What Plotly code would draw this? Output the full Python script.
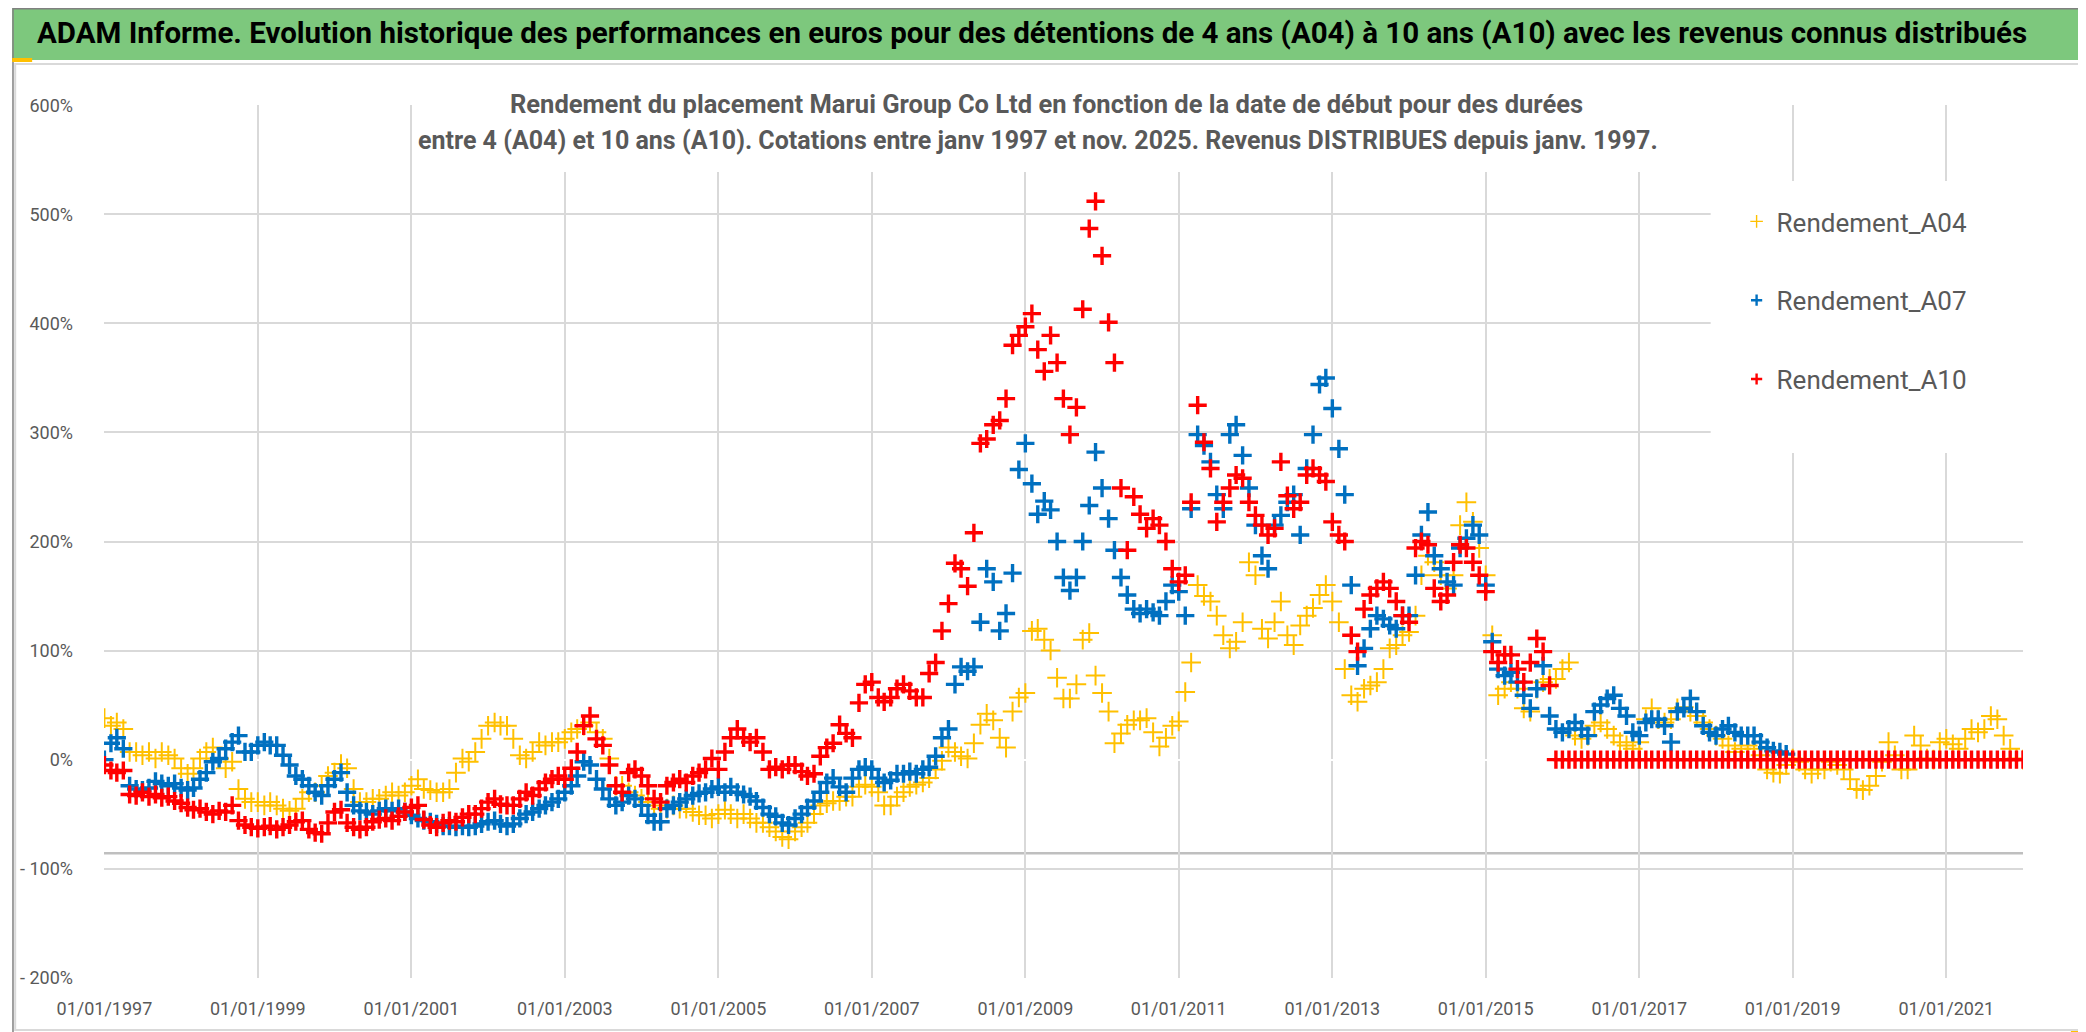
import pandas as pd
import plotly.graph_objects as go

# ---------------- data (monthly readings, % return) ----------------
START = "1997-01-01"

A04 = [
    38, 31, 34, 28, 7, 7, 4, 7, 1, 7, 4, 1,                 # 1997
    -8, -13, -8, 1, 7, 11, 1, -8, -2, -27, -36, -39,        # 1998
    -39, -42, -39, -42, -45, -47, -45, -36, -30, -30, -24, -15,  # 1999
    -12, -4, -8, -27, -39, -39, -36, -36, -33, -30, -33, -30,    # 2000
    -24, -18, -27, -28, -30, -30, -27, -12, 1, -2, 7, 19,   # 2001
    31, 34, 31, 31, 19, 4, 1, 7, 16, 13, 16, 16,            # 2002
    19, 25, 28, 31, 34, 25, 19, 1, -24, -24, -30, -33,      # 2003
    -36, -39, -42, -45, -45, -42, -45, -45, -48, -51, -51, -54,  # 2004
    -50, -46, -50, -54, -50, -54, -58, -58, -62, -66, -71, -73,  # 2005
    -66, -62, -58, -50, -42, -40, -38, -38, -34, -34, -25, -23,  # 2006
    -25, -30, -42, -42, -34, -30, -25, -23, -21, -17, -9, -1,    # 2007
    11, 7, 3, 1, 15, 32, 42, 36, 20, 11, 44, 57,            # 2008
    61, 118, 120, 110, 100, 75, 56, 56, 69, 110, 116, 77,   # 2009
    61, 44, 15, 24, 32, 36, 36, 38, 25, 12, 20, 31,         # 2010
    35, 62, 89, 160, 150, 145, 132, 114, 102, 108, 126, 181,    # 2011
    169, 120, 111, 126, 145, 114, 105, 123, 132, 139, 151, 160, # 2012
    145, 126, 83, 59, 53, 65, 68, 71, 83, 102, 105, 114,    # 2013
    117, 132, 169, 187, 181, 169, 157, 169, 215, 236, 218, 194, # 2014
    169, 114, 59, 65, 71, 65, 47, 44, 65, 71, 74, 74,       # 2015
    83, 89, 22, 19, 22, 31, 34, 28, 22, 16, 13, 10,         # 2016
    16, 37, 47, 37, 34, 37, 47, 48, 44, 40, 34, 28,         # 2017
    22, 19, 13, 7, 10, 13, 10, 4, -9, -12, -13, -5,         # 2018
    1, -2, -9, -13, -9, -9, -2, -5, -9, -18, -27, -28,      # 2019
    -24, -15, -2, 16, 4, -9, -9, 22, 13, 1, 0, 16,          # 2020
    19, 14, 10, 19, 28, 25, 28, 40, 37, 22, 10, 1,          # 2021
    0,                                                      # 2022
]

A07 = [
    0, 15, 20, 10, -24, -27, -28, -26, -20, -22, -24, -22,  # 1997
    -26, -28, -26, -18, -12, -2, 1, 10, 16, 22, 7, 7,       # 1998
    13, 16, 13, 13, 4, -5, -15, -18, -24, -30, -33, -24,    # 1999
    -18, -12, -30, -42, -47, -48, -50, -47, -45, -47, -45, -48,  # 2000
    -51, -54, -56, -57, -59, -61, -61, -62, -61, -62, -61, -59,  # 2001
    -57, -56, -59, -61, -59, -54, -50, -48, -45, -42, -39, -36,  # 2002
    -30, -24, -15, -2, -5, -18, -27, -36, -42, -39, -33, -36,    # 2003
    -42, -51, -57, -57, -45, -42, -39, -36, -33, -31, -30, -27,  # 2004
    -25, -30, -25, -30, -32, -34, -38, -44, -50, -52, -58, -60,  # 2005
    -54, -50, -44, -38, -30, -21, -17, -25, -30, -17, -9, -7,    # 2006
    -9, -17, -21, -19, -13, -13, -11, -13, -9, -7, 3, 20,        # 2007
    28, 69, 85, 81, 85, 126, 175, 163, 118, 134, 171, 266,       # 2008
    290, 253, 225, 237, 229, 200, 167, 155, 167, 200, 233, 282,  # 2009
    249, 221, 192, 167, 151, 138, 134, 138, 135, 132, 145, 160,  # 2010
    154, 132, 230, 298, 288, 273, 243, 230, 298, 307, 279, 249,  # 2011
    215, 187, 175, 215, 224, 236, 243, 206, 267, 298, 344, 350,  # 2012
    322, 285, 243, 160, 86, 102, 120, 132, 129, 123, 120, 132,   # 2013
    132, 169, 206, 227, 187, 175, 163, 160, 194, 203, 215, 206,  # 2014
    160, 108, 83, 77, 80, 71, 59, 47, 65, 86, 40, 28,            # 2015
    25, 28, 34, 28, 22, 44, 50, 56, 59, 47, 40, 25,              # 2016
    22, 34, 37, 37, 31, 16, 44, 47, 56, 44, 31, 25,              # 2017
    22, 28, 31, 25, 22, 22, 22, 16, 11, 8, 7, 5,                 # 2018
]

A10 = [
    -5, -10, -12, -10, -32, -33, -30, -34, -32, -35, -34, -38,   # 1997
    -40, -44, -46, -45, -48, -50, -47, -48, -42, -56, -60, -62,  # 1998
    -63, -62, -61, -64, -62, -60, -57, -56, -64, -67, -68, -58,  # 1999
    -48, -46, -58, -62, -64, -62, -57, -55, -54, -56, -52, -48,  # 2000
    -44, -42, -55, -60, -62, -58, -56, -57, -53, -50, -50, -45,  # 2001
    -39, -36, -41, -42, -42, -36, -30, -33, -27, -21, -18, -15,  # 2002
    -18, -8, 7, 31, 40, 19, 13, -5, -24, -30, -12, -9,           # 2003
    -15, -24, -36, -39, -24, -21, -18, -21, -15, -12, -9, 1,     # 2004
    -9, 7, 20, 28, 20, 16, 20, 7, -9, -7, -9, -5,                # 2005
    -5, -11, -15, -13, 3, 11, 15, 32, 24, 20, 52, 69,            # 2006
    71, 57, 53, 57, 65, 69, 63, 57, 57, 79, 89, 118,             # 2007
    143, 180, 175, 159, 208, 290, 294, 307, 311, 331, 380, 389,  # 2008
    397, 409, 376, 356, 389, 364, 331, 298, 323, 413, 487, 512,  # 2009
    462, 401, 364, 249, 192, 241, 225, 212, 221, 215, 200, 175,  # 2010
    163, 169, 236, 325, 291, 267, 218, 236, 249, 261, 258, 236,  # 2011
    224, 215, 206, 212, 273, 242, 230, 236, 261, 267, 261, 255,  # 2012
    218, 206, 200, 114, 99, 138, 151, 157, 163, 157, 145, 132,   # 2013
    126, 194, 200, 197, 157, 145, 151, 181, 197, 194, 181, 169,  # 2014
    154, 99, 89, 96, 96, 83, 71, 89, 111, 99, 68, 0,             # 2015
    0, 0, 0, 0, 0, 0, 0, 0, 0, 0, 0, 0,                          # 2016
    0, 0, 0, 0, 0, 0, 0, 0, 0, 0, 0, 0,                          # 2017
    0, 0, 0, 0, 0, 0, 0, 0, 0, 0, 0, 0,                          # 2018
    0, 0, 0, 0, 0, 0, 0, 0, 0, 0, 0, 0,                          # 2019
    0, 0, 0, 0, 0, 0, 0, 0, 0, 0, 0, 0,                          # 2020
    0, 0, 0, 0, 0, 0, 0, 0, 0, 0, 0, 0,                          # 2021
    0,                                                           # 2022
]

SERIES_NAMES = ["Rendement_A04", "Rendement_A07", "Rendement_A10"]
Y_TICKS = [-200, -100, 0, 100, 200, 300, 400, 500, 600]
Y_TICKTEXT = ["- 200%", "- 100%", "0%", "100%", "200%", "300%", "400%", "500%", "600%"]
X_RANGE = ["1996-12-30", "2022-01-01"]
AXIS_CROSS = -86  # value where the darker horizontal axis line sits

TITLE = ("ADAM Informe. Evolution historique des performances en euros pour des "
         "détentions de 4 ans (A04) à 10 ans (A10) avec les revenus connus distribués")
SUB1 = "Rendement du placement Marui Group Co Ltd en fonction de la date de début pour des durées"
SUB2 = ("entre 4 (A04) et 10 ans (A10). Cotations entre janv 1997 et nov. 2025. "
        "Revenus DISTRIBUES depuis janv. 1997.")

# ---------------- layout geometry ----------------
W, H = 2086, 1032
ML, MR, MT, MB = 92, 71, 97, 62
PW, PH = W - ML - MR, H - MT - MB


def px_x(x):
    return (x - ML) / PW


def px_y(y):
    return (H - MB - y) / PH


GREY_TXT = "#595959"
GRID = "#D9D9D9"
COLORS = ["#FFC000", "#0070C0", "#FF0000"]
SIZES = [14, 13, 13]
WIDTHS = [2.0, 3.4, 3.4]
LEG_SIZES = [9, 8, 8]
LEG_WIDTHS = [1.4, 2.4, 2.4]

fig = go.Figure()
for name, vals, col, sz, lw in zip(SERIES_NAMES, [A04, A07, A10], COLORS, SIZES, WIDTHS):
    dates = pd.date_range(START, periods=len(vals), freq="MS")
    fig.add_trace(go.Scatter(
        x=dates, y=vals, mode="markers", name=name, showlegend=False,
        marker=dict(symbol="cross-thin", size=sz, color=col, line=dict(color=col, width=lw)),
    ))
# legend entries (smaller symbols, as in the reference legend)
for name, col, sz, lw in zip(SERIES_NAMES, COLORS, LEG_SIZES, LEG_WIDTHS):
    fig.add_trace(go.Scatter(
        x=[None], y=[None], mode="markers", name=name, legendgroup=name, showlegend=True,
        marker=dict(symbol="cross-thin", size=sz, color=col, line=dict(color=col, width=lw)),
    ))

shapes = []
# green title band
shapes.append(dict(type="rect", xref="paper", yref="paper", x0=px_x(0), x1=px_x(W),
                   y0=px_y(52), y1=px_y(0), fillcolor="#7DC87D", line=dict(width=0), layer="below"))
# light inner frame of the chart area
shapes.append(dict(type="rect", xref="paper", yref="paper", x0=px_x(3), x1=px_x(2079),
                   y0=px_y(1022), y1=px_y(56), line=dict(color=GRID, width=2), layer="below"))
# outer frame
shapes.append(dict(type="rect", xref="paper", yref="paper", x0=px_x(0.8), x1=px_x(W - 0.8),
                   y0=px_y(H - 0.8), y1=px_y(0.8), line=dict(color="#808080", width=1.5), layer="above"))
# darker horizontal axis line
shapes.append(dict(type="line", xref="paper", yref="y", x0=0, x1=1, y0=AXIS_CROSS, y1=AXIS_CROSS,
                   line=dict(color="#BFBFBF", width=2.5), layer="below"))
# white boxes behind subtitle and legend (hide gridlines)
shapes.append(dict(type="rect", xref="paper", yref="paper", x0=px_x(424), x1=px_x(1656),
                   y0=px_y(164), y1=px_y(75), fillcolor="white", line=dict(width=0), layer="above"))
shapes.append(dict(type="rect", xref="paper", yref="paper", x0=px_x(1702), x1=px_x(2016),
                   y0=px_y(445), y1=px_y(173), fillcolor="white", line=dict(width=0), layer="above"))
# yellow selection handles
for (x0, y0, x1, y1) in [(0, 50, 20, 54), (2, 1024, 22, 1030), (2079, 52, 2086, 68),
                         (2079, 967, 2085, 1030), (2063, 1023, 2085, 1030)]:
    shapes.append(dict(type="rect", xref="paper", yref="paper", x0=px_x(x0), x1=px_x(x1),
                       y0=px_y(y1), y1=px_y(y0), fillcolor="#FFC000", line=dict(width=0), layer="above"))

annotations = [
    dict(text=TITLE, xref="paper", yref="paper", x=px_x(1022), y=px_y(25), xanchor="center",
         yanchor="middle", showarrow=False,
         font=dict(family="Roboto, sans-serif", size=29.5, color="black", weight="bold")),
    dict(text=SUB1, xref="paper", yref="paper", x=px_x(1036), y=px_y(96), xanchor="center",
         yanchor="middle", showarrow=False,
         font=dict(family="Roboto, sans-serif", size=25.5, color=GREY_TXT, weight="bold")),
    dict(text=SUB2, xref="paper", yref="paper", x=px_x(1028), y=px_y(133), xanchor="center",
         yanchor="middle", showarrow=False,
         font=dict(family="Roboto, sans-serif", size=25, color=GREY_TXT, weight="bold")),
]

fig.update_layout(
    width=W, height=H,
    margin=dict(l=ML, r=MR, t=MT, b=MB, pad=0),
    paper_bgcolor="white", plot_bgcolor="white",
    font=dict(family="Roboto, sans-serif", color=GREY_TXT),
    showlegend=True,
    legend=dict(x=px_x(1728), y=px_y(190), xanchor="left", yanchor="top",
                bgcolor="rgba(0,0,0,0)", font=dict(size=26, color=GREY_TXT),
                traceorder="grouped", tracegroupgap=42, itemsizing="trace"),
    shapes=shapes, annotations=annotations,
    xaxis=dict(type="date", range=X_RANGE, tick0="1997-01-01", dtick="M24", tickformat="%d/%m/%Y",
               showgrid=True, gridcolor=GRID, gridwidth=1.5, zeroline=False, showline=False,
               ticks="", tickfont=dict(size=18, color=GREY_TXT), ticklabelstandoff=18),
    yaxis=dict(range=[-200.3, 600.3], tickvals=Y_TICKS, ticktext=Y_TICKTEXT,
               showgrid=True, gridcolor=GRID, gridwidth=1.5,
               zeroline=True, zerolinecolor="white", zerolinewidth=2, showline=False,
               ticks="", tickfont=dict(size=18, color=GREY_TXT), ticklabelstandoff=30),
)

fig.write_html("out.html")
